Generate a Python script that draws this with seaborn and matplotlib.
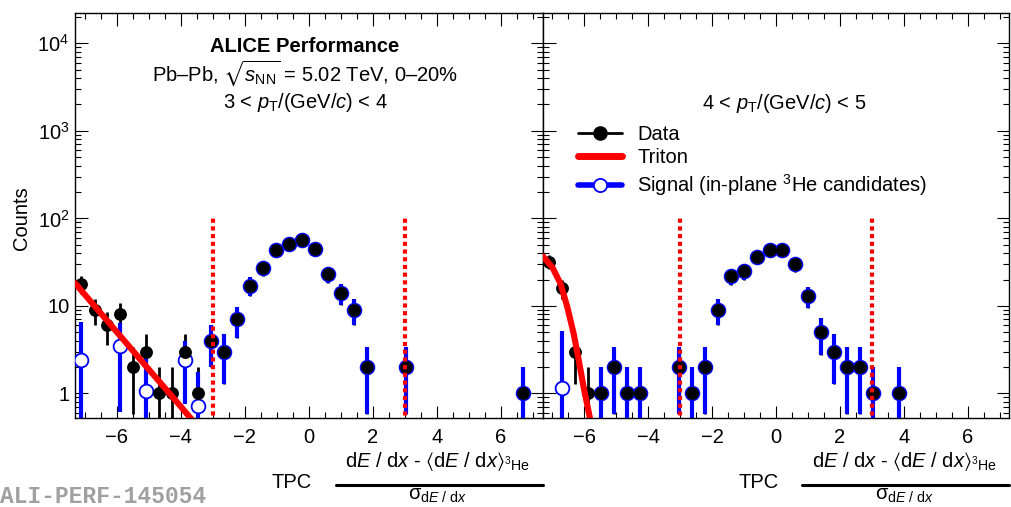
import numpy as np
import pandas as pd
import matplotlib
matplotlib.use("Agg")
import matplotlib.pyplot as plt
import seaborn as sns
from matplotlib.lines import Line2D
from matplotlib.ticker import (FixedLocator, FixedFormatter, MultipleLocator,
                               LogLocator, NullFormatter)

# ---------------- data ----------------
bins_left = [-7.10, -6.69, -6.29, -5.88, -5.48, -5.07, -4.67, -4.26, -3.86, -3.45,
             -3.04, -2.64, -2.23, -1.83, -1.42, -1.01, -0.61, -0.20, 0.20, 0.61,
             1.01, 1.42, 1.83, 3.04, 6.69]
counts_left = [18, 9, 6, 8, 2, 3, 1, 1, 3, 1,
               4, 3, 7, 17, 27, 43, 51, 57, 45, 23,
               14, 9, 2, 2, 1]
in_signal_left = [False] * 10 + [True] * 15
open_x_left = [-7.10, -5.88, -5.07, -3.86, -3.45]
open_y_left = [2.43, 3.47, 1.08, 2.38, 0.72]
open_err_left = [4.07, 2.85, 1.76, 1.62, 1.03]
triton_x_left = [-7.3, -6.0, -5.0, -4.0, -3.5]
triton_y_left = [18.2, 5.06, 1.89, 0.71, 0.43]

bins_right = [-7.10, -6.69, -6.29, -5.88, -5.48, -5.07, -4.67, -4.26, -3.04, -2.64,
              -2.23, -1.83, -1.42, -1.01, -0.61, -0.20, 0.20, 0.61, 1.01, 1.42,
              1.83, 2.23, 2.64, 3.04, 3.86]
counts_right = [32, 16, 3, 1, 1, 2, 1, 1, 2, 1,
                2, 9, 22, 25, 36, 44, 44, 30, 13, 5,
                3, 2, 2, 1, 1]
in_signal_right = [False] * 4 + [True] * 21
open_x_right = [-6.69]
open_y_right = [1.15]
open_err_right = [4.0]
triton_x_right = [-7.3, -7.0, -6.74, -6.53, -6.33, -6.17, -6.02, -5.83, -5.7]
triton_y_right = [37.0, 27.7, 17.9, 9.7, 4.8, 2.38, 1.18, 0.54, 0.3]

cut_positions = [-3, 3]
cut_top = 100

ytick_vals = [1, 10, 100, 1000, 10000]
ytick_labels = ["1", "10", r"$10^{2}$", r"$10^{3}$", r"$10^{4}$"]
legend_labels = ["Data", "Triton", r"Signal (in-plane $^{3}$He candidates)"]
pt_labels = [r"3 < $p_{\mathrm{T}}$/(GeV/$c$) < 4", r"4 < $p_{\mathrm{T}}$/(GeV/$c$) < 5"]

# ---------------- style ----------------
sns.set_theme(style="ticks")
plt.rcParams["font.family"] = ["Liberation Sans", "DejaVu Sans"]
plt.rcParams.update({
    "mathtext.fontset": "custom",
    "mathtext.rm": "Liberation Sans",
    "mathtext.it": "Liberation Sans:italic",
    "mathtext.bf": "Liberation Sans:bold",
    "mathtext.sf": "Liberation Sans",
    "mathtext.fallback": "stixsans",
    "axes.linewidth": 1.0,
    "axes.edgecolor": "black",
    "xtick.color": "black",
    "ytick.color": "black",
    "text.color": "black",
})

W, H = 1011, 507
def fx(px):
    return px / W
def fy(py):
    return 1 - py / H

fig = plt.figure(figsize=(W / 100, H / 100), dpi=100)
top_px, bot_px = 13.3, 418.3
ax1 = fig.add_axes([fx(75), fy(bot_px), fx(542.7) - fx(75), (bot_px - top_px) / H])
ax2 = fig.add_axes([fx(542.7), fy(bot_px), fx(1009.3) - fx(542.7), (bot_px - top_px) / H])

BLUE = "#0000ff"
RED = "#ff0000"


def draw_panel(ax, bins, counts, in_sig, ox, oy, oerr, tx, ty):
    ax.set_yscale("log")
    df = pd.DataFrame({"x": bins, "y": counts, "sig": in_sig})
    df["err"] = np.sqrt(df["y"])
    df["lo"] = np.minimum(df["err"], df["y"] - 1e-3)
    # data error bars (black)
    ax.errorbar(df["x"], df["y"], yerr=[df["lo"], df["err"]], fmt="none",
                ecolor="black", elinewidth=2.0, capsize=0, zorder=2)
    # signal error bars (blue)
    s = df[df["sig"]]
    ax.errorbar(s["x"], s["y"], yerr=[s["lo"], s["err"]], fmt="none",
                ecolor=BLUE, elinewidth=3.0, capsize=0, zorder=3)
    o = pd.DataFrame({"x": ox, "y": oy, "err": oerr})
    o["lo"] = np.minimum(o["err"], o["y"] - 1e-3)
    ax.errorbar(o["x"], o["y"], yerr=[o["lo"], o["err"]], fmt="none",
                ecolor=BLUE, elinewidth=3.0, capsize=0, zorder=3)
    # signal markers
    sig_pts = pd.concat([s[["x", "y"]], o[["x", "y"]]], ignore_index=True)
    sns.scatterplot(data=sig_pts, x="x", y="y", ax=ax, marker="o", s=98,
                    color="white", edgecolor=BLUE, linewidth=1.3, zorder=4)
    # data markers
    sns.scatterplot(data=df, x="x", y="y", ax=ax, marker="o", s=86,
                    color="black", edgecolor="black", linewidth=0, zorder=5)
    # triton fit
    tri = pd.DataFrame({"x": tx, "y": ty})
    sns.lineplot(data=tri, x="x", y="y", ax=ax, color=RED, lw=4.4, sort=False,
                 zorder=6, estimator=None)
    # cut lines
    ax.vlines(cut_positions, 1e-3, cut_top, colors=RED, linewidth=3.0,
              linestyles=(0, (1.0, 0.85)), zorder=7)
    ax.set_xlabel("")
    ax.set_ylabel("")


draw_panel(ax1, bins_left, counts_left, in_signal_left, open_x_left, open_y_left,
           open_err_left, triton_x_left, triton_y_left)
draw_panel(ax2, bins_right, counts_right, in_signal_right, open_x_right, open_y_right,
           open_err_right, triton_x_right, triton_y_right)

for ax in (ax1, ax2):
    ax.set_xlim(-7.3, 7.3)
    ax.set_ylim(0.52, 2.2e4)
    ax.xaxis.set_major_locator(MultipleLocator(2))
    ax.xaxis.set_minor_locator(MultipleLocator(0.5))
    ax.yaxis.set_major_locator(FixedLocator(ytick_vals))
    ax.yaxis.set_major_formatter(FixedFormatter(ytick_labels))
    ax.yaxis.set_minor_locator(LogLocator(base=10, subs=np.arange(2, 10), numticks=20))
    ax.yaxis.set_minor_formatter(NullFormatter())
    ax.tick_params(which="both", direction="in", top=True, right=True,
                   width=0.8, color="black")
    ax.tick_params(which="major", length=9, labelsize=14.5)
    ax.tick_params(which="minor", length=4.5)
    ax.tick_params(axis="x", pad=7)
    ax.tick_params(axis="y", pad=4)
    for sp in ax.spines.values():
        sp.set_color("black")
        sp.set_linewidth(1.0)
ax2.tick_params(labelleft=False)

# header texts
fig.text(fx(305), fy(52), "ALICE Performance", ha="center", va="baseline",
         fontsize=14.5, fontweight="bold")
fig.text(fx(305), fy(81), r"Pb–Pb, $\sqrt{s_{\mathrm{NN}}}$ = 5.02 TeV, 0–20%",
         ha="center", va="baseline", fontsize=14.5)
fig.text(fx(305), fy(108), pt_labels[0], ha="center", va="baseline", fontsize=14.5)
fig.text(fx(784), fy(109), pt_labels[1], ha="center", va="baseline", fontsize=14.5)

# legend
handles = [
    Line2D([], [], color="black", lw=2, marker="o", markersize=9.5,
           markerfacecolor="black", markeredgecolor="black"),
    Line2D([], [], color=RED, lw=5),
    Line2D([], [], color=BLUE, lw=4, marker="o", markersize=9.5,
           markerfacecolor="white", markeredgecolor=BLUE, markeredgewidth=1.3),
]
ax2.legend(handles, legend_labels, loc="upper left",
           bbox_to_anchor=(fx(578), fy(125)), bbox_transform=fig.transFigure,
           frameon=False, fontsize=14.5, handlelength=2.2, handletextpad=0.75,
           labelspacing=0.22, borderpad=0, borderaxespad=0)

# y label
fig.text(fx(21), fy(218), "Counts", rotation=90, ha="center", va="center",
         fontsize=14.5)

# x labels (ROOT style fraction, right aligned to each panel)
num = r"d$E$ / d$x$ - $\langle$d$E$ / d$x\rangle_{^{3}\mathrm{He}}$"
den = r"$\mathrm{σ}_{\mathrm{d}E\ /\ \mathrm{d}x}$"
for R in (542.7, 1009.3):
    fig.text(fx(R - 251), fy(483), "TPC", ha="center", va="center", fontsize=14.5)
    fig.text(fx(R - 105), fy(467), num, ha="center", va="baseline", fontsize=14.5)
    fig.add_artist(Line2D([fx(R - 207), fx(R)], [fy(485), fy(485)],
                          color="black", lw=2.2))
    fig.text(fx(R - 105), fy(500), den, ha="center", va="baseline", fontsize=14.5)

# watermark
fig.text(fx(0), fy(503), "ALI-PERF-145054", ha="left", va="baseline",
         fontsize=16.5, fontweight="bold", family="Liberation Mono", color="#a0a0a0")

fig.savefig("out.png", dpi=100)
